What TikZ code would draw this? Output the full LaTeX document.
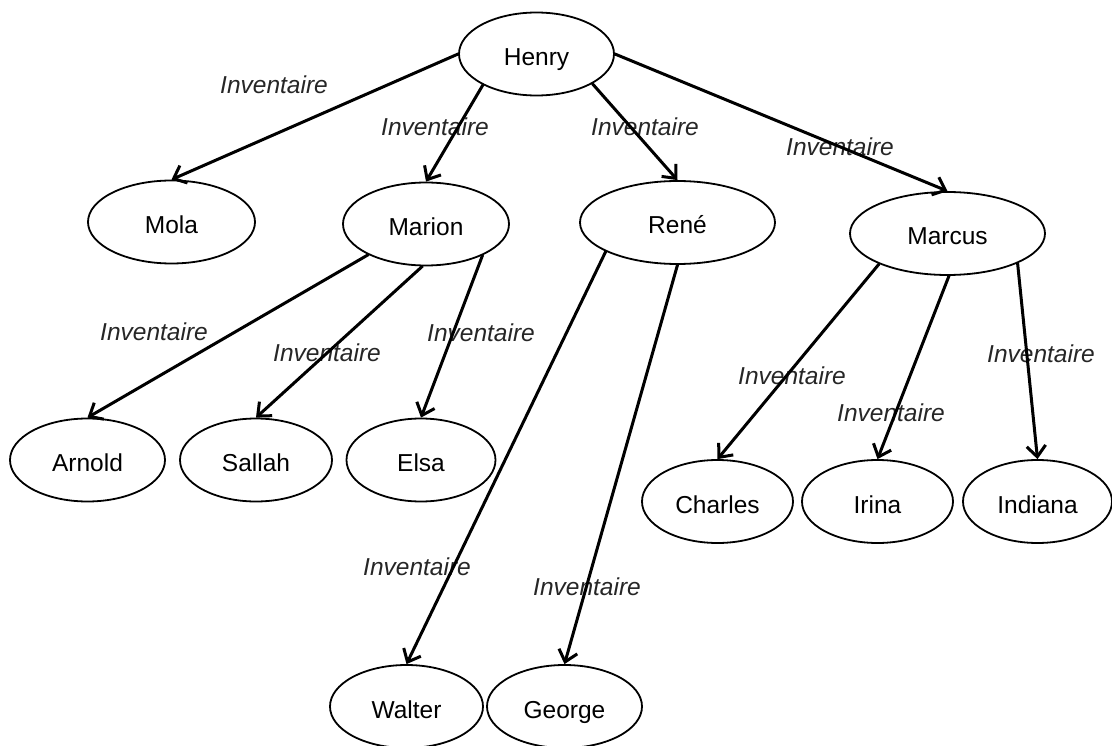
\documentclass[tikz,border=0pt]{standalone}
\usepackage{fontspec}
\setmainfont{Liberation Sans}
\usetikzlibrary{shapes.geometric,arrows.meta}
\begin{document}
\begin{tikzpicture}[x=1pt,y=-1pt,
  person/.style={ellipse,draw,line width=1.8pt,inner sep=0pt,minimum height=83pt,
    text height=23pt,text depth=0pt,font=\fontsize{24.5}{28}\selectfont},
  rel/.style={inner sep=0pt,text=black!85,font=\fontsize{24.5}{28}\selectfont\itshape},
  link/.style={line width=3pt,line cap=round,-{Straight Barb[length=11pt,width=19pt]}}]
\useasboundingbox (0,0) rectangle (1112,746);
% labels (drawn first so the connectors pass over them)
\node[rel] (l1)  at (274,85)   {Inventaire};
\node[rel] (l2)  at (435,127)  {Inventaire};
\node[rel] (l3)  at (645,127)  {Inventaire};
\node[rel] (l4)  at (840,147)  {Inventaire};
\node[rel] (l5)  at (154,332)  {Inventaire};
\node[rel] (l6)  at (327,353)  {Inventaire};
\node[rel] (l7)  at (481,333)  {Inventaire};
\node[rel] (l8)  at (417,567)  {Inventaire};
\node[rel] (l9)  at (587,587)  {Inventaire};
\node[rel] (l10) at (792,376)  {Inventaire};
\node[rel] (l11) at (891,413)  {Inventaire};
\node[rel] (l12) at (1041,354) {Inventaire};
% people
\node[person,minimum width=155pt] (henry)   at (536.5,54)   {Henry};
\node[person,minimum width=167pt] (mola)    at (171.5,222)  {Mola};
\node[person,minimum width=166pt] (marion)  at (426,224)    {Marion};
\node[person,minimum width=195pt] (rene)    at (677.5,222.5){René};
\node[person,minimum width=195pt] (marcus)  at (947.5,233.5){Marcus};
\node[person,minimum width=155pt] (arnold)  at (87.5,460)   {Arnold};
\node[person,minimum width=152pt] (sallah)  at (256,460)    {Sallah};
\node[person,minimum width=149pt] (elsa)    at (421,460)    {Elsa};
\node[person,minimum width=151pt] (charles) at (717.5,501.5){Charles};
\node[person,minimum width=151pt] (irina)   at (877.5,501.5){Irina};
\node[person,minimum width=149pt] (indiana) at (1037.5,501.5){Indiana};
\node[person,minimum width=153pt] (walter)  at (406.5,706.5){Walter};
\node[person,minimum width=155pt] (george)  at (564.5,706.5){George};
% connectors
\draw[link] (henry.west) -- (mola.north);
\draw[link] (henry.-150) -- (marion.north);
\draw[link] (henry.-28) -- (rene.north);
\draw[link] (henry.east) -- (marcus.north);
\draw[link] (marion.-152) -- (arnold.north);
\draw[link] (marion.-95) -- (sallah.north);
\draw[link] (marion.-29) -- (elsa.north);
\draw[link] (rene.-158) -- (walter.north);
\draw[link] (rene.south) -- (george.north);
\draw[link] (marcus.-156) -- (charles.north);
\draw[link] (marcus.-88) -- (irina.north);
\draw[link] (marcus.-23) -- (indiana.north);
\end{tikzpicture}
\end{document}
